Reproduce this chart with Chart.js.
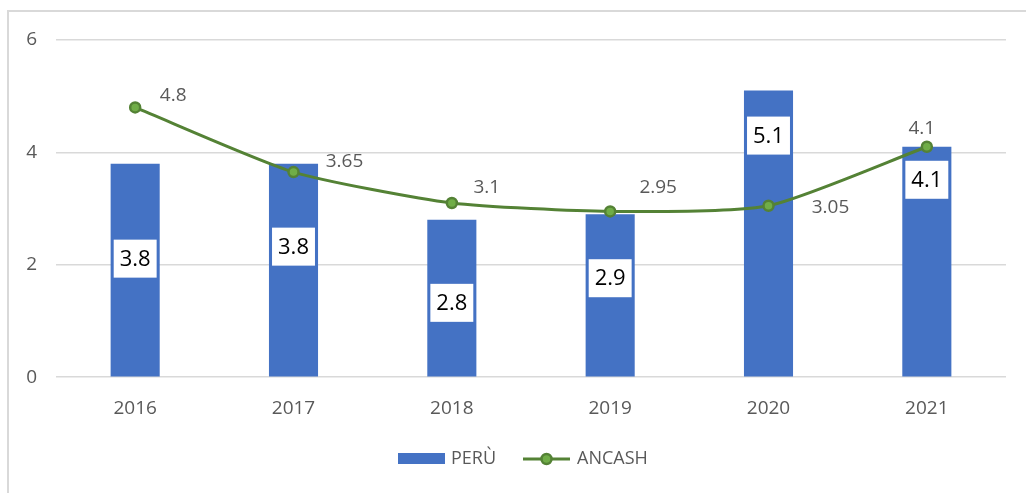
<!DOCTYPE html>
<html>
<head>
<meta charset="utf-8">
<script src="https://cdn.jsdelivr.net/npm/chart.js@4.4.1/dist/chart.umd.min.js"></script>
<style>
  html, body { margin: 0; padding: 0; background: #ffffff; }
  #wrap { width: 1026px; height: 493px; position: relative; }
</style>
</head>
<body>
<div id="wrap"><canvas id="c" width="1026" height="493"></canvas></div>
<script>
const categories = ['2016', '2017', '2018', '2019', '2020', '2021'];
const peruValues = [3.8, 3.8, 2.8, 2.9, 5.1, 4.1];
const ancashValues = [4.8, 3.65, 3.1, 2.95, 3.05, 4.1];
const yTicks = [0, 2, 4, 6];
const seriesNames = ['PERÙ', 'ANCASH'];

const FONT = "'Open Sans', 'Noto Sans', sans-serif";
const GRAY = '#595959';
const BLUE = '#4472c4';
const GREEN_LINE = '#548235';
const GREEN_FILL = '#70ad47';

// label placement (pixel offsets), kept separate from data
const barLabelOffsets = [95, 83, 83, 64, 45, 33];            // px below bar top
const lineLabelOffsets = [[38,-12],[51,-10],[35,-15],[48,-24],[62,2],[-5,-18]];

const decor = {
  id: 'decor',
  beforeDraw(chart) {
    const ctx = chart.ctx;
    ctx.save();
    ctx.strokeStyle = '#d9d9d9';
    ctx.lineWidth = 2;
    ctx.beginPath();
    ctx.moveTo(8, 493);
    ctx.lineTo(8, 11);
    ctx.lineTo(1026, 11);
    ctx.stroke();
    ctx.restore();
  },
  afterDatasetsDraw(chart) {
    const ctx = chart.ctx;
    ctx.save();
    const barMeta = chart.getDatasetMeta(0);
    ctx.font = '22px ' + FONT;
    ctx.textAlign = 'center';
    ctx.textBaseline = 'middle';
    barMeta.data.forEach((el, i) => {
      const txt = String(peruValues[i]);
      const cx = el.x;
      const cy = el.y + barLabelOffsets[i];
      const w = ctx.measureText(txt).width + 12;
      const h = 38;
      ctx.fillStyle = '#ffffff';
      ctx.fillRect(cx - w / 2, cy - h / 2, w, h);
      ctx.fillStyle = '#000000';
      ctx.fillText(txt, cx, cy + 1);
    });
    const lineMeta = chart.getDatasetMeta(1);
    ctx.font = '19px ' + FONT;
    ctx.fillStyle = GRAY;
    lineMeta.data.forEach((el, i) => {
      const txt = String(ancashValues[i]);
      const [dx, dy] = lineLabelOffsets[i];
      ctx.fillText(txt, el.x + dx, el.y + dy);
    });
    ctx.restore();
  },
  afterDraw(chart) {
    const ctx = chart.ctx;
    ctx.save();
    const y = 459;
    ctx.fillStyle = BLUE;
    ctx.fillRect(398, 453, 47, 11);
    ctx.font = '18px ' + FONT;
    ctx.textBaseline = 'middle';
    ctx.textAlign = 'left';
    ctx.fillStyle = GRAY;
    ctx.fillText(seriesNames[0], 451, y);
    ctx.strokeStyle = GREEN_LINE;
    ctx.lineWidth = 3;
    ctx.beginPath();
    ctx.moveTo(523, y);
    ctx.lineTo(570, y);
    ctx.stroke();
    ctx.beginPath();
    ctx.arc(546.5, y, 5, 0, Math.PI * 2);
    ctx.fillStyle = GREEN_FILL;
    ctx.fill();
    ctx.lineWidth = 2.5;
    ctx.stroke();
    ctx.fillStyle = GRAY;
    ctx.fillText(seriesNames[1], 577, y);
    ctx.restore();
  }
};

new Chart(document.getElementById('c'), {
  data: {
    labels: categories,
    datasets: [
      {
        type: 'bar',
        label: seriesNames[0],
        data: peruValues,
        backgroundColor: BLUE,
        categoryPercentage: 1,
        barPercentage: 0.31,
        order: 2
      },
      {
        type: 'line',
        label: seriesNames[1],
        data: ancashValues,
        borderColor: GREEN_LINE,
        borderWidth: 3,
        backgroundColor: GREEN_FILL,
        pointBackgroundColor: GREEN_FILL,
        pointBorderColor: GREEN_LINE,
        pointBorderWidth: 2.5,
        pointRadius: 5,
        tension: 0.2,
        order: 1
      }
    ]
  },
  options: {
    responsive: false,
    animation: false,
    devicePixelRatio: 1,
    layout: { padding: { left: 0, right: 20, top: 40, bottom: 53 } },
    plugins: {
      legend: { display: false },
      tooltip: { enabled: false }
    },
    scales: {
      x: {
        grid: { display: false, drawTicks: false },
        border: { display: false },
        ticks: { color: GRAY, font: { family: FONT, size: 19 }, padding: 20 }
      },
      y: {
        min: 0,
        max: 6,
        afterBuildTicks(scale) { scale.ticks = yTicks.map(v => ({ value: v })); },
        afterFit(scale) { scale.width = 56; },
        grid: { color: '#d9d9d9', lineWidth: 1.5, drawTicks: false },
        border: { display: false },
        ticks: { color: GRAY, font: { family: FONT, size: 19 }, padding: 19 }
      }
    }
  },
  plugins: [decor]
});
</script>
</body>
</html>
